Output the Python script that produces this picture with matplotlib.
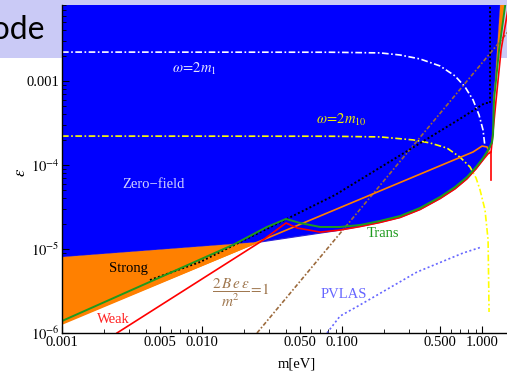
import matplotlib
matplotlib.use("Agg")
import matplotlib.pyplot as plt
from matplotlib.patches import Rectangle
from matplotlib.ticker import FixedLocator, NullFormatter

plt.rcParams['font.family'] = ['Liberation Serif', 'DejaVu Serif']
plt.rcParams['mathtext.fontset'] = 'stix'

# zero-field region: lower boundary then right edge up to the top
zero_m = [0.001, 0.026, 0.089, 0.1345, 0.1868, 0.2595, 0.3606, 0.501, 0.641, 0.781, 0.906, 1.016, 1.104, 1.179,
          1.198, 1.239, 1.36]
zero_eps = [8.0e-6, 1.21e-5, 1.64e-5, 1.85e-5, 2.07e-5, 2.37e-5, 2.95e-5, 3.98e-5, 5.2e-5, 6.85e-5, 9.0e-5,
            1.15e-4, 1.44e-4, 1.8e-4, 5.9e-4, 1.03e-3, 1e-2]

# strong-field wedge and the sliver at top right
strong_m = [0.001, 0.026, 0.001]
strong_eps = [8.0e-6, 1.21e-5, 1.28e-6]
corner_m = [1.198, 1.239, 1.36, 1.49, 1.323, 1.218]
corner_eps = [5.9e-4, 1.03e-3, 1e-2, 1e-2, 2.34e-3, 5.94e-4]

# boundary lines
green_m = [0.001, 0.01664, 0.0291, 0.0398, 0.0501, 0.0697, 0.0968, 0.1345, 0.1868, 0.2595, 0.3606, 0.501, 0.641,
           0.781, 0.906, 1.016, 1.104, 1.179, 1.198, 1.218, 1.323, 1.49]
green_eps = [1.39e-6, 1.12e-5, 1.83e-5, 2.28e-5, 2.04e-5, 1.83e-5, 1.83e-5, 1.93e-5, 2.16e-5, 2.47e-5, 3.08e-5,
             4.16e-5, 5.47e-5, 7.2e-5, 9.46e-5, 1.21e-4, 1.51e-4, 1.88e-4, 2.3e-4, 5.94e-4, 2.34e-3, 1e-2]

red_m = [0.00247, 0.026, 0.0398, 0.0477, 0.0697, 0.0968, 0.1345, 0.1868, 0.2595, 0.3606, 0.501, 0.641, 0.781,
         0.906, 1.016, 1.104, 1.159, 1.259, 1.367, 1.55]
red_eps = [1e-6, 1.21e-5, 2.04e-5, 1.78e-5, 1.59e-5, 1.68e-5, 1.85e-5, 2.07e-5, 2.37e-5, 2.95e-5, 3.98e-5,
           5.2e-5, 6.85e-5, 9.0e-5, 1.15e-4, 1.36e-4, 1.42e-4, 5.94e-4, 2.34e-3, 8e-3]
red_drop_m = [1.159, 1.159]
red_drop_eps = [1.42e-4, 6.6e-5]

orange_m = [0.001, 0.863, 1.0, 1.086, 1.122]
orange_eps = [1.28e-6, 1.43e-4, 1.68e-4, 1.64e-4, 1.43e-4]

black_m = [0.00425, 0.00968, 0.089, 0.674, 1.05, 1.14, 1.14]
black_eps = [4.27e-6, 7.0e-6, 4.39e-5, 3.43e-4, 5.47e-4, 5.47e-4, 1e-2]

w1_m = [0.001, 0.082, 0.1868, 0.2595, 0.3606, 0.501, 0.641, 0.756, 0.863, 0.952, 1.016, 1.05]
w1_eps = [2.21e-3, 2.2e-3, 2.16e-3, 2.04e-3, 1.83e-3, 1.51e-3, 1.15e-3, 8.49e-4, 5.94e-4, 3.93e-4, 2.61e-4, 1.64e-4]

w10_m = [0.001, 0.082, 0.1868, 0.321, 0.425, 0.562, 0.696, 0.821, 0.906, 0.968, 1.05, 1.104, 1.122]
w10_eps = [2.21e-4, 2.2e-4, 2.16e-4, 1.99e-4, 1.83e-4, 1.59e-4, 1.24e-4, 9.46e-5, 7.0e-5, 5.03e-5, 2.91e-5,
           1.28e-5, 1.78e-6]

brown_m = [0.0247, 1.55]
brown_eps = [1e-6, 3.94e-3]

pvlas_m = [0.0781, 0.0968, 0.1345, 0.343, 0.732, 1.0]
pvlas_eps = [1e-6, 1.59e-6, 2.16e-6, 5.32e-6, 8.96e-6, 1.06e-5]

xticks = [0.001, 0.005, 0.01, 0.05, 0.1, 0.5, 1.0]
xticklabels = ['0.001', '0.005', '0.010', '0.050', '0.100', '0.500', '1.000']
yticks = [1e-6, 1e-5, 1e-4, 1e-3]
yticklabels = [r'$10^{-6}$', r'$10^{-5}$', r'$10^{-4}$', '0.001']

fig = plt.figure(figsize=(5.07, 3.74), dpi=100)
# slide title band behind the plot
fig.patches.append(Rectangle((0, 1 - 58 / 374), 1, 58 / 374, transform=fig.transFigure,
                             facecolor='#cacaf6', edgecolor='none', zorder=-1))
fig.text(45 / 507, 1 - 39 / 374, 'Mode', family='Lato', fontsize=23, ha='right', va='baseline')

ax = fig.add_axes([62 / 507, 1 - 333 / 374, 1 - 62 / 507, 328 / 374])
ax.set_facecolor('none')
ax.set_xscale('log')
ax.set_yscale('log')
ax.set_xlim(0.001, 1.507)
ax.set_ylim(1e-6, 8.03e-3)

ax.fill(zero_m + [0.001], zero_eps + [1e-2], color='#0000ff', ec='#3020d8', lw=0.8, zorder=1)
ax.fill(strong_m, strong_eps, color='#ff8000', lw=0, zorder=2)
ax.fill(corner_m, corner_eps, color='#ff8000', lw=0, zorder=2)

ax.plot(w1_m, w1_eps, color='white', lw=1.2, dashes=[4, 1.5, 1, 1.5], zorder=3)
ax.plot(w10_m, w10_eps, color='#ffff00', lw=1.2, dashes=[4, 1.5, 1, 1.5], zorder=3)
ax.plot(brown_m, brown_eps, color='#9c6a3c', lw=1.2, dashes=[2.5, 1.2, 1, 1.2], zorder=3)
ax.plot(pvlas_m, pvlas_eps, color='#6666ff', lw=1.2, dashes=[1.2, 1.5], zorder=3)
ax.plot(black_m, black_eps, color='black', lw=1.4, dashes=[1, 1.2], zorder=4)
ax.plot(orange_m, orange_eps, color='#ff8000', lw=1.2, zorder=4)
ax.plot(red_m, red_eps, color='#ff0000', lw=1.2, zorder=5)
ax.plot(red_drop_m, red_drop_eps, color='#ff0000', lw=1.2, zorder=5)
ax.plot(green_m, green_eps, color='#1e9a1e', lw=1.4, zorder=6)

ax.text(0.00447, 5.94e-5, 'Zero\u2212field', color='#d4d4ff', fontsize=10.5, ha='center', va='center', zorder=7)
ax.text(0.00296, 5.94e-6, 'Strong', color='black', fontsize=10.5, ha='center', va='center', zorder=7)
ax.text(0.00231, 1.43e-6, 'Weak', color='#ff2020', fontsize=10.5, ha='center', va='center', zorder=7)
ax.text(0.196, 1.51e-5, 'Trans', color='#1e9a1e', fontsize=10.5, ha='center', va='center', zorder=7)
ax.text(0.1033, 2.91e-6, 'PVLAS', color='#6666ff', fontsize=10.5, ha='center', va='center', zorder=7)
ax.text(0.00877, 1.39e-3, r'$\omega\!=\!2m_1$', color='#e4e4ff', fontsize=10.5, ha='center', va='center', zorder=7)
ax.text(0.0985, 3.43e-4, r'$\omega\!=\!2m_{10}$', color='#eeee00', fontsize=10.5, ha='center', va='center', zorder=7)
ax.text(0.019, 2.99e-6, r'$\dfrac{2\,B\,e\,\epsilon}{m^2}\!=\!1$', color='#a07850', fontsize=11,
        ha='center', va='center', zorder=7)

for side in ['top', 'right']:
    ax.spines[side].set_visible(False)
for side in ['left', 'bottom']:
    ax.spines[side].set_linewidth(1.0)
    ax.spines[side].set_zorder(8)

ax.xaxis.set_major_locator(FixedLocator(xticks))
ax.set_xticklabels(xticklabels)
ax.yaxis.set_major_locator(FixedLocator(yticks))
ax.set_yticklabels(yticklabels)
ax.xaxis.set_minor_formatter(NullFormatter())
ax.yaxis.set_minor_formatter(NullFormatter())
ax.tick_params(which='both', direction='in', labelsize=10.5, pad=2)
ax.tick_params(which='major', length=5, width=0.8)
ax.tick_params(which='minor', length=3, width=0.6)

ax.set_xlabel('m[eV]', fontsize=10.5)
ax.xaxis.set_label_coords((297 - 62) / 445, -0.075)
ax.set_ylabel(r'$\epsilon$', fontsize=12)
ax.yaxis.set_label_coords(-0.075, 0.49)

fig.savefig('out.png', dpi=100)
